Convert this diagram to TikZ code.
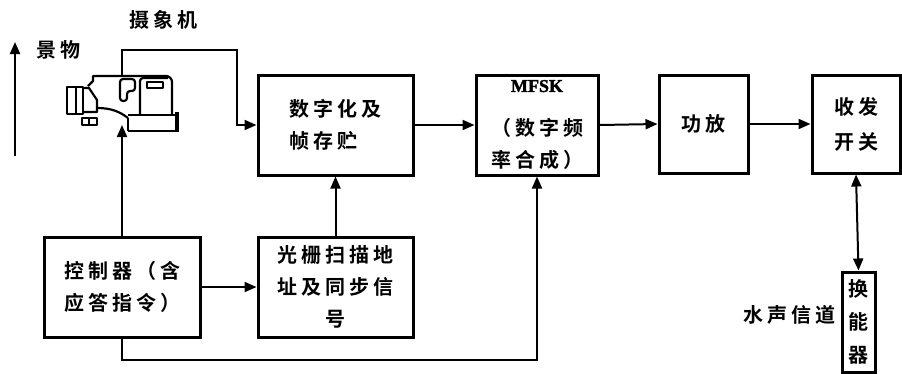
\documentclass[tikz,border=0pt]{standalone}
\usepackage{fontspec}
\setmainfont{Liberation Serif}
\newfontfamily\cjk{Noto Sans CJK SC}[BoldFont={* Bold},LetterSpace=20]
\usetikzlibrary{arrows.meta}
\begin{document}
\begin{tikzpicture}[x=1pt,y=-1pt,
  box/.style={draw,line width=3pt,inner sep=0pt,font=\cjk\bfseries\fontsize{20}{32}\selectfont},
  conn/.style={line width=2pt},
  arr/.style={conn,-{Triangle[length=12pt,width=10pt]}},
  lbl/.style={font=\cjk\bfseries\fontsize{20}{32}\selectfont,inner sep=0pt}]
\useasboundingbox (0,0) rectangle (902,373);

% processing blocks
\node[box,minimum width=155pt,minimum height=100pt,align=left] (dig) at (335.5,125) {数字化及\\帧存贮};
\node[box,minimum width=122pt,minimum height=100pt,align=center] (mfsk) at (537,125)
  {\raisebox{6pt}{\fontspec{Liberation Serif}[FakeBold=2]\fontsize{18}{20}\selectfont MFSK}\\[6pt]（数字频\\率合成）};
\node[box,minimum width=89pt,minimum height=98pt] (pa) at (703.5,124) {功放};
\node[box,minimum width=88pt,minimum height=98pt,align=center] (sw) at (856,124) {收发\\[3pt]开关};
\node[box,minimum width=156pt,minimum height=100pt,align=left] (ctrl) at (122,287) {控制器（含\\应答指令）};
\node[box,minimum width=155pt,minimum height=100pt,align=center] (scan) at (335.5,287) {光栅扫描地\\址及同步信\\号};
\node[box,minimum width=33pt,minimum height=100pt,align=center,font=\cjk\bfseries\fontsize{20}{33}\selectfont] (tr) at (858.5,322) {换\\能\\器};

% labels
\node[lbl] (scene) at (58,50) {景物};
\node[lbl] (camlbl) at (163,20) {摄象机};
\node[lbl,anchor=east] (chan) at (836,315) {水声信道};

% scene direction arrow
\coordinate (s1) at (15,156);
\coordinate (s2) at (15,42);
\draw[arr] (s1) -- (s2);

% video camera
\begin{scope}[line width=2.2pt,line join=round]
  % eyepiece and lens hood
  \draw[line width=2.8pt] (67,87) rectangle (83,114);
  \draw (76,87) -- (76,114);
  \draw (83,88) -- (89,88) -- (97,100) -- (97,112) -- (83,112);
  % body outline
  \draw (88,86) -- (93,81) -- (93,76) -- (166,76) to[out=0,in=90] (172,82) -- (172,115);
  \draw (97,108) .. controls (112,108) and (120,112) .. (128,118);
  % battery base
  \draw (128,115) -- (176,115);
  \draw (128,131) -- (176,131);
  \draw (128,118) -- (128,131);
  \draw[line width=3.5pt] (177,112) -- (177,132);
  % handle
  \draw (82,118) rectangle (97,125);
  \draw (89,118) -- (89,125);
  % viewfinder
  \draw[rounded corners=3pt] (120,101) -- (120,79) -- (135,79) -- (135,91) -- (127,91) -- (127,101) -- cycle;
  % cassette compartment
  \draw[rounded corners=3pt] (140,115) -- (140,78) -- (168,78);
  \draw (147,82) rectangle (163,88);
\end{scope}
\coordinate (camtop) at (122,76);
\coordinate (cambot) at (122,125);
\coordinate (k1) at (237,50);
\coordinate (k2) at (537,360);

% connectors
\draw[arr] (camtop) |- (k1) |- (dig.west);
\draw[arr] (ctrl.north) -- (cambot);
\draw[arr] (scan.north) -- (dig.south);
\draw[arr] (ctrl.east) -- (scan.west);
\draw[arr] (ctrl.south) |- (k2) -- (mfsk.south);
\draw[arr] (dig.east) -- (mfsk.west);
\draw[arr] (mfsk.east) -- (pa.west);
\draw[arr] (pa.east) -- (sw.west);
\draw[conn,{Triangle[length=12pt,width=10pt]}-{Triangle[length=12pt,width=10pt]}] (sw.south) -- (tr.north);
\end{tikzpicture}
\end{document}
